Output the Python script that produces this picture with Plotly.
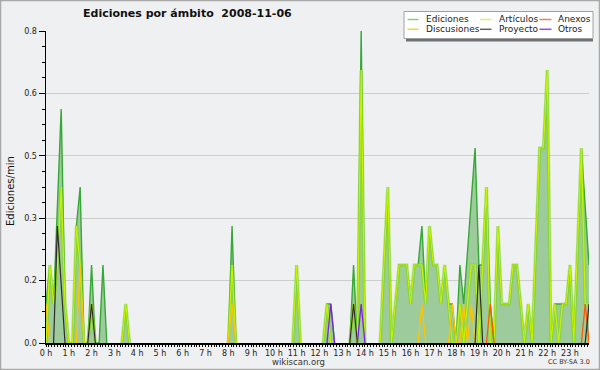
import plotly.graph_objects as go

# ---------------- data (edits per minute, 10-minute buckets) ----------------
minutes = list(range(0, 1440, 10))

ediciones = [
    0.1, 0.2, 0.1, 0.35, 0.6, 0.1, 0, 0, 0.3, 0.4, 0, 0, 0.2, 0, 0, 0.2, 0, 0, 0, 0, 0, 0.1, 0, 0,
    0, 0, 0, 0, 0, 0, 0, 0, 0, 0, 0, 0, 0, 0, 0, 0, 0, 0, 0, 0, 0, 0, 0, 0,
    0, 0.3, 0, 0, 0, 0, 0, 0, 0, 0, 0, 0, 0, 0, 0, 0, 0, 0, 0.2, 0, 0, 0, 0, 0,
    0, 0, 0.1, 0.1, 0, 0, 0, 0, 0, 0.2, 0, 0.8, 0, 0, 0, 0, 0, 0.2, 0.4, 0, 0.1, 0.2, 0.2, 0.2,
    0.1, 0.2, 0.2, 0.3, 0.1, 0.3, 0.2, 0.2, 0.1, 0.2, 0.1, 0.1, 0, 0.2, 0.1, 0.23, 0.37, 0.5, 0.2, 0.2, 0.4, 0.1, 0, 0.3,
    0.1, 0.1, 0.1, 0.2, 0.2, 0.1, 0, 0.1, 0, 0.25, 0.5, 0.5, 0.7, 0, 0.1, 0.1, 0.1, 0.1, 0.2, 0, 0.25, 0.5, 0.35, 0.2,
]
articulos = [
    0, 0.2, 0.1, 0.2, 0.4, 0.1, 0, 0, 0.3, 0.2, 0, 0, 0.1, 0, 0, 0, 0, 0, 0, 0, 0, 0.1, 0, 0,
    0, 0, 0, 0, 0, 0, 0, 0, 0, 0, 0, 0, 0, 0, 0, 0, 0, 0, 0, 0, 0, 0, 0, 0,
    0, 0.2, 0, 0, 0, 0, 0, 0, 0, 0, 0, 0, 0, 0, 0, 0, 0, 0, 0.2, 0, 0, 0, 0, 0,
    0, 0, 0.1, 0, 0, 0, 0, 0, 0, 0.1, 0, 0.7, 0, 0, 0, 0, 0, 0.2, 0.4, 0, 0.1, 0.2, 0.2, 0.2,
    0.1, 0.2, 0.2, 0.2, 0.1, 0.3, 0.2, 0.2, 0.1, 0.2, 0.1, 0, 0, 0.1, 0, 0.1, 0.2, 0.2, 0, 0.2, 0.4, 0, 0, 0.3,
    0.1, 0.1, 0.1, 0.2, 0.2, 0.1, 0, 0.1, 0, 0.25, 0.5, 0.5, 0.7, 0, 0.1, 0, 0.1, 0.1, 0.2, 0, 0.25, 0.5, 0.1, 0.1,
]
anexos = [
    0, 0, 0, 0, 0, 0, 0, 0, 0, 0, 0, 0, 0, 0, 0, 0, 0, 0, 0, 0, 0, 0, 0, 0,
    0, 0, 0, 0, 0, 0, 0, 0, 0, 0, 0, 0, 0, 0, 0, 0, 0, 0, 0, 0, 0, 0, 0, 0,
    0, 0, 0, 0, 0, 0, 0, 0, 0, 0, 0, 0, 0, 0, 0, 0, 0, 0, 0, 0, 0, 0, 0, 0,
    0, 0, 0, 0, 0, 0, 0, 0, 0, 0, 0, 0, 0, 0, 0, 0, 0, 0, 0, 0, 0, 0, 0, 0,
    0, 0, 0, 0, 0, 0, 0, 0, 0, 0, 0, 0, 0, 0, 0, 0, 0, 0, 0, 0, 0, 0.1, 0, 0,
    0, 0, 0, 0, 0, 0, 0, 0, 0, 0, 0, 0, 0, 0, 0, 0, 0, 0, 0, 0, 0, 0, 0.1, 0,
]
discusiones = [
    0.1, 0, 0, 0, 0, 0, 0, 0, 0, 0.2, 0, 0, 0, 0, 0, 0, 0, 0, 0, 0, 0, 0, 0, 0,
    0, 0, 0, 0, 0, 0, 0, 0, 0, 0, 0, 0, 0, 0, 0, 0, 0, 0, 0, 0, 0, 0, 0, 0,
    0, 0.1, 0, 0, 0, 0, 0, 0, 0, 0, 0, 0, 0, 0, 0, 0, 0, 0, 0, 0, 0, 0, 0, 0,
    0, 0, 0, 0, 0, 0, 0, 0, 0, 0, 0, 0, 0, 0, 0, 0, 0, 0, 0, 0, 0, 0, 0, 0,
    0, 0, 0, 0.1, 0, 0, 0, 0, 0, 0, 0, 0.1, 0, 0, 0.1, 0, 0.1, 0, 0, 0, 0, 0, 0, 0,
    0, 0, 0, 0, 0, 0, 0, 0, 0, 0, 0, 0, 0, 0, 0, 0, 0, 0, 0, 0, 0, 0, 0, 0,
]
proyecto = [
    0, 0, 0, 0.3, 0.15, 0, 0, 0, 0, 0, 0, 0, 0.1, 0, 0, 0, 0, 0, 0, 0, 0, 0, 0, 0,
    0, 0, 0, 0, 0, 0, 0, 0, 0, 0, 0, 0, 0, 0, 0, 0, 0, 0, 0, 0, 0, 0, 0, 0,
    0, 0, 0, 0, 0, 0, 0, 0, 0, 0, 0, 0, 0, 0, 0, 0, 0, 0, 0, 0, 0, 0, 0, 0,
    0, 0, 0, 0, 0, 0, 0, 0, 0, 0.1, 0, 0, 0, 0, 0, 0, 0, 0, 0, 0, 0, 0, 0, 0,
    0, 0, 0, 0, 0, 0, 0, 0, 0, 0, 0, 0, 0, 0, 0, 0, 0, 0, 0.2, 0, 0, 0, 0, 0,
    0, 0, 0, 0, 0, 0, 0, 0, 0, 0, 0, 0, 0, 0, 0, 0, 0, 0, 0, 0, 0, 0, 0, 0.1,
]
otros = [
    0, 0, 0, 0, 0, 0, 0, 0, 0, 0, 0, 0, 0, 0, 0, 0, 0, 0, 0, 0, 0, 0, 0, 0,
    0, 0, 0, 0, 0, 0, 0, 0, 0, 0, 0, 0, 0, 0, 0, 0, 0, 0, 0, 0, 0, 0, 0, 0,
    0, 0, 0, 0, 0, 0, 0, 0, 0, 0, 0, 0, 0, 0, 0, 0, 0, 0, 0, 0, 0, 0, 0, 0,
    0, 0, 0, 0.1, 0, 0, 0, 0, 0, 0, 0, 0.1, 0, 0, 0, 0, 0, 0, 0, 0, 0, 0, 0, 0,
    0, 0, 0, 0, 0, 0, 0, 0, 0, 0, 0, 0, 0, 0, 0, 0, 0, 0, 0, 0, 0, 0, 0, 0,
    0, 0, 0, 0, 0, 0, 0, 0, 0, 0, 0, 0, 0, 0, 0, 0, 0, 0, 0, 0, 0, 0, 0, 0,
]

hour_ticks = list(range(24))
hour_labels = ["0 h", "1 h", "2 h", "3 h", "4 h", "5 h", "6 h", "7 h", "8 h", "9 h", "10 h", "11 h",
               "12 h", "13 h", "14 h", "15 h", "16 h", "17 h", "18 h", "19 h", "20 h", "21 h", "22 h", "23 h"]
y_ticks = [0, 0.16, 0.32, 0.48, 0.64, 0.8]
y_labels = ["0.0", "0.2", "0.3", "0.5", "0.6", "0.8"]

legend_names = ["Ediciones", "Artículos", "Anexos", "Discusiones", "Proyecto", "Otros"]

# ---------------- layout geometry ----------------
W, H = 600, 370
L, R, T, B = 46, 11, 31, 27
PW, PH = W - L - R, H - T - B
FONT = "DejaVu Sans"
BG = "#eff0f1"


def xp(px):
    return (px - L) / PW


def yp(py):
    return (H - B - py) / PH


def hide_flat_zeros(values):
    # keep zeros next to a non-zero value, so runs of zero are not drawn on the baseline
    out = []
    n = len(values)
    for k, v in enumerate(values):
        prev_nz = k > 0 and values[k - 1] != 0
        next_nz = k < n - 1 and values[k + 1] != 0
        out.append(v if (v != 0 or prev_nz or next_nz) else None)
    return out


hours = [m / 60 for m in minutes]

fig = go.Figure()
# filled area of total edits
fig.add_trace(go.Scatter(x=hours, y=ediciones, mode="lines", name=legend_names[0],
                         line=dict(color="rgba(0,0,0,0)", width=0), fill="tozeroy",
                         fillcolor="#9ecb9c", showlegend=False, hoverinfo="skip"))
fig.add_trace(go.Scatter(x=hours, y=hide_flat_zeros(ediciones), mode="lines", name=legend_names[0],
                         line=dict(color="#36a836", width=1.4), showlegend=False))
fig.add_trace(go.Scatter(x=hours, y=hide_flat_zeros(articulos), mode="lines", name=legend_names[1],
                         line=dict(color="rgba(125,212,30,0.6)", width=3.2), showlegend=False,
                         hoverinfo="skip"))
fig.add_trace(go.Scatter(x=hours, y=hide_flat_zeros(articulos), mode="lines", name=legend_names[1],
                         line=dict(color="#c6f400", width=1.2), showlegend=False))
fig.add_trace(go.Scatter(x=hours, y=hide_flat_zeros(discusiones), mode="lines", name=legend_names[3],
                         line=dict(color="#ffc400", width=1.3), showlegend=False))
fig.add_trace(go.Scatter(x=hours, y=hide_flat_zeros(anexos), mode="lines", name=legend_names[2],
                         line=dict(color="#ff5a00", width=1.3), showlegend=False))
fig.add_trace(go.Scatter(x=hours, y=hide_flat_zeros(proyecto), mode="lines", name=legend_names[4],
                         line=dict(color="#2b2b2b", width=1.2), showlegend=False))
fig.add_trace(go.Scatter(x=hours, y=hide_flat_zeros(otros), mode="lines", name=legend_names[5],
                         line=dict(color="#7b22e8", width=1.3), showlegend=False))

shapes = []
annotations = []

# figure border
shapes.append(dict(type="rect", xref="paper", yref="paper", x0=xp(0.5), x1=xp(599.5),
                   y0=yp(369.5), y1=yp(0.5), line=dict(color="#a8a8a8", width=1.5), layer="above"))

# legend box with shadow
shapes.append(dict(type="rect", xref="paper", yref="paper", x0=xp(406), x1=xp(593),
                   y0=yp(41.5), y1=yp(14), fillcolor="#707070", line=dict(width=0), layer="above"))
shapes.append(dict(type="rect", xref="paper", yref="paper", x0=xp(404), x1=xp(593),
                   y0=yp(38.5), y1=yp(11.5), fillcolor="#ffffff",
                   line=dict(color="#a0a0a0", width=1), layer="above"))
legend_colors = ["#80d080", "#d8f070", "#f08050", "#f8d040", "#606060", "#9050e0"]
col_line_x = [(407.5, 418.5), (480, 491.5), (539.5, 551.5)]
col_text_x = [424, 496.5, 555.5]
row_y = [19.5, 29.3]
for k, name in enumerate(legend_names):
    r, c = divmod(k, 3)
    shapes.append(dict(type="line", xref="paper", yref="paper",
                       x0=xp(col_line_x[c][0]), x1=xp(col_line_x[c][1]),
                       y0=yp(row_y[r]), y1=yp(row_y[r]),
                       line=dict(color=legend_colors[k], width=1.5), layer="above"))
    annotations.append(dict(xref="paper", yref="paper", x=xp(col_text_x[c]), y=yp(row_y[r]),
                            text=name, showarrow=False, xanchor="left", yanchor="middle",
                            font=dict(family=FONT, size=9, color="#222")))

# title and captions
annotations.append(dict(xref="paper", yref="paper", x=xp(187.5), y=yp(14), showarrow=False,
                        text="<b>Ediciones por ámbito\u00a0\u00a02008-11-06</b>",
                        xanchor="center", yanchor="middle",
                        font=dict(family=FONT, size=11, color="#111")))
annotations.append(dict(xref="paper", yref="paper", x=xp(10), y=yp(191), showarrow=False,
                        text="Ediciones/min", textangle=-90, xanchor="center", yanchor="middle",
                        font=dict(family=FONT, size=10, color="#111")))
annotations.append(dict(xref="paper", yref="paper", x=xp(298), y=yp(362), showarrow=False,
                        text="wikiscan.org", xanchor="center", yanchor="middle",
                        font=dict(family=FONT, size=8.5, color="#333")))
annotations.append(dict(xref="paper", yref="paper", x=xp(569), y=yp(362), showarrow=False,
                        text="CC BY-SA 3.0", xanchor="center", yanchor="middle",
                        font=dict(family=FONT, size=6.5, color="#333")))

fig.update_layout(
    width=W, height=H, autosize=False,
    margin=dict(l=L, r=R, t=T, b=B, pad=0),
    paper_bgcolor=BG, plot_bgcolor=BG,
    showlegend=False, hovermode=False,
    shapes=shapes, annotations=annotations,
    xaxis=dict(range=[0, minutes[-1] / 60], tickmode="array", tickvals=hour_ticks,
               ticktext=hour_labels, ticks="outside", ticklen=2, tickwidth=1, tickcolor="#000",
               showline=True, linecolor="#000", linewidth=1.5, showgrid=False, zeroline=False,
               tickfont=dict(family=FONT, size=8, color="#222"),
               minor=dict(dtick=0.125, tick0=0, ticks="outside", ticklen=2, tickwidth=1,
                          tickcolor="#000", showgrid=False)),
    yaxis=dict(range=[0, 0.8], tickmode="array", tickvals=y_ticks, ticktext=y_labels,
               ticks="outside", ticklen=6, tickwidth=1, tickcolor="#000",
               showline=True, linecolor="#000", linewidth=1.5, showgrid=True,
               gridcolor="#cdcdcd", gridwidth=1, zeroline=False,
               tickfont=dict(family=FONT, size=8, color="#222"),
               minor=dict(dtick=0.04, tick0=0, ticks="outside", ticklen=3, tickwidth=1,
                          tickcolor="#000", showgrid=False)),
)

fig.write_html("out.html", config={"displayModeBar": False, "staticPlot": True},
               post_script="document.body.style.margin='0';document.body.style.overflow='hidden';")
